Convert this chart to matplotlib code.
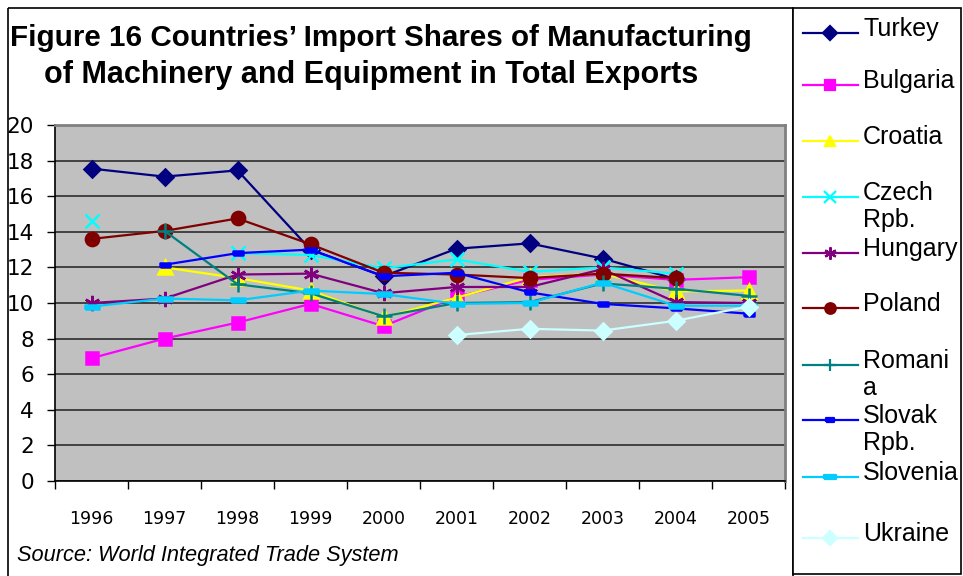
import numpy as np
import matplotlib
matplotlib.use("Agg")
import matplotlib.pyplot as plt
from matplotlib.patches import Rectangle
from matplotlib.lines import Line2D

nan = np.nan

years = ["1996", "1997", "1998", "1999", "2000", "2001", "2002", "2003", "2004", "2005"]

turkey   = [17.55, 17.1, 17.45, 13.0, 11.5, 13.05, 13.35, 12.5, 11.35, nan]
bulgaria = [6.9, 8.0, 8.9, 9.95, 8.7, 10.35, 11.3, 11.6, 11.3, 11.45]
croatia  = [nan, 12.0, 11.4, 10.7, 9.2, 10.3, 11.45, 11.65, 10.65, 10.7]
czech    = [14.6, nan, 12.8, 12.7, 11.95, 12.45, 11.75, 12.0, 11.65, nan]
hungary  = [10.0, 10.25, 11.6, 11.65, 10.55, 10.9, 10.9, 11.9, 10.05, 10.0]
poland   = [13.6, 14.05, 14.75, 13.3, 11.7, 11.6, 11.4, 11.65, 11.4, nan]
romania  = [nan, 14.05, 11.05, 10.55, 9.25, 10.0, 10.05, 11.1, 10.8, 10.4]
slovak   = [nan, 12.15, 12.8, 13.0, 11.5, 11.7, 10.6, 9.95, 9.7, 9.4]
slovenia = [9.8, 10.25, 10.15, 10.7, 10.5, 9.95, 10.0, 11.15, 9.85, 9.85]
ukraine  = [nan, nan, nan, nan, nan, 8.2, 8.55, 8.45, 9.0, 9.8]

series = [turkey, bulgaria, croatia, czech, hungary, poland, romania, slovak, slovenia, ukraine]
labels = ["Turkey", "Bulgaria", "Croatia", "Czech\nRpb.", "Hungary", "Poland",
          "Romani\na", "Slovak\nRpb.", "Slovenia", "Ukraine"]
colors = ["#000080", "#FF00FF", "#FFFF00", "#00FFFF", "#800080", "#800000",
          "#008080", "#0000FF", "#00CCFF", "#CCFFFF"]

short_dash = [(-1, -0.45), (1, -0.45), (1, 0.45), (-1, 0.45), (-1, -0.45)]
long_dash = [(-1, -0.3), (1, -0.3), (1, 0.3), (-1, 0.3), (-1, -0.3)]
markers = ["D", "s", "^", "x", (6, 2, 0), "o", "+", short_dash, long_dash, "D"]
msizes = [8.5, 9, 9.5, 10, 11, 9.5, 11, 7, 10, 8.5]

W, H = 963, 576
fig = plt.figure(figsize=(W / 100, H / 100), dpi=100)

# overlay axes in pixel coordinates for frames, titles and the legend
lax = fig.add_axes([0, 0, 1, 1], facecolor="none", zorder=3)
lax.set_xlim(0, W)
lax.set_ylim(H, 0)
lax.axis("off")
lax.add_patch(Rectangle((8, 8), 793 - 8, H + 20, fill=False, ec="black", lw=1.2, clip_on=False))
lax.add_patch(Rectangle((793, 8), 961 - 793, 566, fc="white", ec="black", lw=1.2, clip_on=False))

lax.text(381, 38, "Figure 16 Countries’ Import Shares of Manufacturing",
         ha="center", va="center", fontsize=21.3, fontweight="bold", family="Liberation Sans")
lax.text(371, 75, "of Machinery and Equipment in Total Exports",
         ha="center", va="center", fontsize=22, fontweight="bold", family="Liberation Sans")
lax.text(17, 556, "Source: World Integrated Trade System",
         ha="left", va="center", fontsize=15.7, style="italic", family="Liberation Sans")

row_y = [33, 85, 141, 197, 253, 308, 365, 420, 477, 538]
for yy, lab, c, m, ms in zip(row_y, labels, colors, markers, msizes):
    lax.add_line(Line2D([803, 858], [yy, yy], color=c, lw=1.6))
    lax.add_line(Line2D([830], [yy], color=c, marker=m, markersize=ms * 0.8,
                        mec=c, mfc=c, mew=1.6))
    for k, part in enumerate(lab.split("\n")):
        lax.text(863, yy - 4 + 27 * k, part, ha="left", va="center",
                 fontsize=18, family="Liberation Sans")

ax = fig.add_axes([55 / W, 1 - 481 / H, (785 - 55) / W, (481 - 125) / H])
ax.set_facecolor("#C0C0C0")
x = np.arange(len(years))
for s, c, m, ms in zip(series, colors, markers, msizes):
    ax.plot(x, s, color=c, lw=1.6, marker=m, markersize=ms, mec=c, mfc=c, mew=1.8)

ax.set_xlim(-0.5, len(years) - 0.5)
ax.set_ylim(0, 20)
ax.set_yticks(np.arange(0, 21, 2))
ax.set_xticks(np.arange(-0.5, len(years), 1))
ax.set_xticklabels([])
ax.set_xticks(x, minor=True)
ax.set_xticklabels(years, minor=True, fontsize=12.5, family="DejaVu Sans")
ax.tick_params(axis="x", which="minor", length=0, pad=21)
ax.tick_params(axis="x", which="major", length=6, width=1, direction="out")
ax.tick_params(axis="y", length=6, width=1, pad=9, labelsize=15.5)
for lab in ax.get_yticklabels():
    lab.set_family("DejaVu Sans")
ax.yaxis.grid(True, color="#202020", lw=1.1)
ax.set_axisbelow(True)
for side in ["top", "right"]:
    ax.spines[side].set_color("#808080")
    ax.spines[side].set_linewidth(2)
ax.spines["left"].set_linewidth(1.2)
ax.spines["bottom"].set_linewidth(1.2)

fig.savefig("out.png", dpi=100)
